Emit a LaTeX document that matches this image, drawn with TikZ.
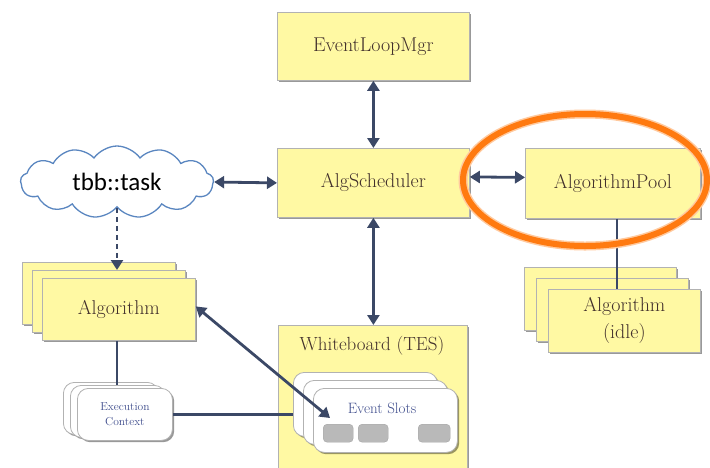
\documentclass[tikz,border=0pt]{standalone}
\usepackage{fontspec}
\newfontfamily\cfont{Carlito}
\usetikzlibrary{arrows.meta,shapes.symbols,shadows}
\definecolor{boxyellow}{HTML}{FFF9A3}
\definecolor{navy}{HTML}{3B4866}
\definecolor{txtc}{HTML}{42302C}
\definecolor{txtblue}{HTML}{3E4C8C}
\definecolor{cloudblue}{HTML}{5A86C0}
\definecolor{orng}{HTML}{FF7A10}
\begin{document}
\begin{tikzpicture}[x=1pt,y=-1pt,
  shd/.style={drop shadow={shadow xshift=1.8pt,shadow yshift=-1.8pt,opacity=0.4,fill=black}},
  ybox/.style={draw=gray!60,fill=boxyellow,line width=0.8pt,shd,anchor=north west,inner sep=0pt,
     text=txtc,font=\fontsize{20}{27}\selectfont,align=center},
  wbox/.style={draw=gray!60,fill=white,line width=0.8pt,shd,anchor=north west,inner sep=0pt,rounded corners=11pt},
  slot/.style={draw=gray!70,fill=gray!55,rounded corners=4pt,anchor=north west,inner sep=0pt,minimum height=18pt},
  conn/.style={draw=navy,line width=2.8pt},
  dbl/.style={conn,{Triangle[length=10pt,width=12pt]}-{Triangle[length=10pt,width=12pt]}},
  sgl/.style={conn,-{Triangle[length=10pt,width=12pt]}},
  lbl/.style={inner sep=0pt}]
\useasboundingbox (0,0) rectangle (710,467);

% top boxes
\node[ybox,minimum width=192pt,minimum height=68pt] (elm) at (277,12) {EventLoopMgr};
\node[ybox,minimum width=192pt,minimum height=69pt] (sched) at (277,148) {AlgScheduler};
\node[ybox,minimum width=175pt,minimum height=70pt] (pool) at (525,148) {AlgorithmPool};

% cloud
\node[cloud,cloud puffs=13,cloud puff arc=110,aspect=2.7,draw=cloudblue,line width=1.3pt,fill=white,
  minimum width=193pt,minimum height=72pt,inner sep=0pt] (cloud) at (117,182)
  {\cfont\fontsize{25}{28}\selectfont tbb::task};

% Algorithm stack (left)
\node[ybox,minimum width=153pt,minimum height=62pt] (alg3) at (22,262) {};
\node[ybox,minimum width=153pt,minimum height=62pt] (alg2) at (32,270) {};
\node[ybox,minimum width=153pt,minimum height=62pt] (alg) at (42,278) {Algorithm};

% Algorithm (idle) stack
\node[ybox,minimum width=152pt,minimum height=63pt] (idle3) at (524,267) {};
\node[ybox,minimum width=152pt,minimum height=63pt] (idle2) at (536,278) {};
\node[ybox,minimum width=152pt,minimum height=63pt] (idle) at (548,289) {Algorithm\\(idle)};

% Execution context stack
\node[wbox,minimum width=95pt,minimum height=52pt] (ec3) at (63,382) {};
\node[wbox,minimum width=95pt,minimum height=52pt] (ec2) at (70,385) {};
\node[wbox,minimum width=95pt,minimum height=52pt,align=center,text=txtblue,
  font=\fontsize{11.5}{15}\selectfont] (ec) at (77,388) {Execution\\Context};

% Whiteboard
\node[ybox,minimum width=189pt,minimum height=145pt] (wb) at (278,325) {};
\node[lbl,text=txtc,font=\fontsize{19}{22}\selectfont] (wbtitle) at (372,346) {Whiteboard (TES)};
\node[wbox,minimum width=144pt,minimum height=64pt] (ev3) at (293,372) {};
\node[wbox,minimum width=144pt,minimum height=64pt] (ev2) at (303,380) {};
\node[wbox,minimum width=144pt,minimum height=64pt] (ev) at (313,388) {};
\node[lbl,text=txtblue,font=\fontsize{15}{18}\selectfont] (evlbl) at (382,408) {Event Slots};
\node[slot,minimum width=30pt] (s1) at (323,424) {};
\node[slot,minimum width=30pt] (s2) at (358,424) {};
\node[slot,minimum width=32pt] (s3) at (418,424) {};

% connectors
\draw[dbl] (elm.south) -- (sched.north);
\draw[dbl] (cloud.east) -- (sched.west);
\draw[dbl] ([yshift=6pt]sched.east) -- ([yshift=6pt]pool.west);
\draw[dbl] (sched.south) -- (sched.south |- wb.north);
\draw[sgl,dashed,dash pattern=on 5pt off 4pt] (cloud.south) -- (cloud.south |- alg2.north);
\draw[conn] (alg.south -| cloud.south) -- (ec2.north -| cloud.south);
\draw[conn] (ec.east) -- (ec.east -| ev3.west);
\coordinate (evtip) at ([shift={(7,-6)}]s1.north west);
\draw[dbl] ([yshift=3pt]alg.east) -- (evtip);
\draw[conn] (pool.south -| 617,0) -- (idle.north -| 617,0);

% highlight ellipse
\draw[orng!40,line width=9pt] (585,180) ellipse [x radius=122pt,y radius=66pt];
\draw[orng,line width=6pt] (585,180) ellipse [x radius=122pt,y radius=66pt];
\end{tikzpicture}
\end{document}
